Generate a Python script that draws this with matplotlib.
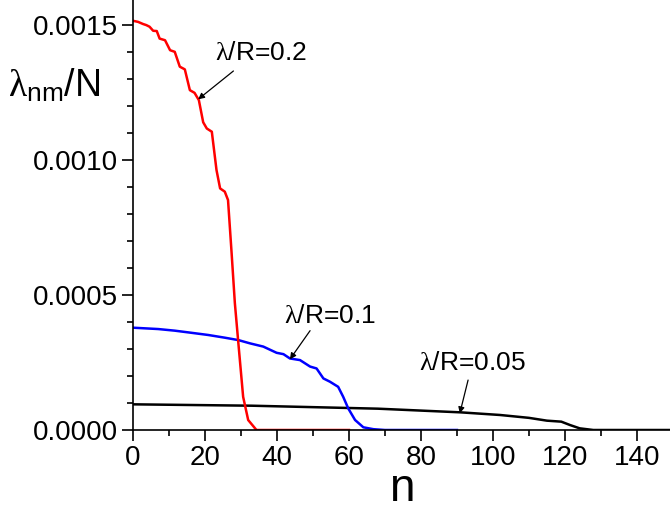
import matplotlib
matplotlib.use('Agg')
import matplotlib.pyplot as plt
from matplotlib.ticker import MultipleLocator, FormatStrFormatter

plt.rcParams['font.family'] = ['Liberation Sans', 'DejaVu Sans']
plt.rcParams['mathtext.fontset'] = 'custom'
plt.rcParams['mathtext.rm'] = 'Liberation Serif'
plt.rcParams['mathtext.sf'] = 'Liberation Sans'
plt.rcParams['mathtext.it'] = 'Liberation Serif:italic'

# lambda/R = 0.2 (red)
n_02 = [0, 1.4, 2.8, 3.7, 4.6, 5.6, 6.6, 7.4, 8.9, 10.3, 11.6, 13.0, 14.4, 15.8,
        17.1, 18.3, 19.5, 20.5, 21.9, 23.2, 24.2, 25.5, 26.4, 27.4, 28.3, 29.2,
        30.6, 32.0, 34.3, 40, 60]
v_02 = [0.001516, 0.001512, 0.001504, 0.001500, 0.001494, 0.001479, 0.001478,
        0.001450, 0.001444, 0.001407, 0.001401, 0.001346, 0.001336, 0.001259,
        0.001249, 0.001222, 0.001140, 0.001117, 0.001105, 0.000963, 0.000895,
        0.000883, 0.000852, 0.000655, 0.000470, 0.000333, 0.000123, 0.000037,
        0.0, 0.0, 0.0]

# lambda/R = 0.1 (blue)
n_01 = [0, 7, 11.6, 16.3, 20.9, 25.5, 29.3, 32.5, 36.2, 39.9, 41.8, 43.6, 46.4,
        49.2, 51.0, 52.9, 54.7, 57.0, 58.4, 59.8, 61.7, 64.0, 66.8, 70, 90]
v_01 = [0.000379, 0.000374, 0.000368, 0.000360, 0.000352, 0.000342, 0.000333,
        0.000321, 0.000309, 0.000286, 0.000281, 0.000265, 0.000259, 0.000235,
        0.000228, 0.000191, 0.000179, 0.000160, 0.000123, 0.000080, 0.000037,
        0.000010, 0.000003, 0.0, 0.0]

# lambda/R = 0.05 (black)
n_005 = [0, 33, 68, 91, 102, 110, 115, 119, 121.4, 124.1, 127.9, 150]
v_005 = [0.0000951, 0.0000900, 0.0000790, 0.0000654, 0.0000556, 0.0000450,
         0.0000346, 0.0000309, 0.0000185, 0.0000062, 0.0, 0.0]

labels = ['$\\mathrm{\\lambda}$/R=0.2', '$\\mathrm{\\lambda}$/R=0.1', '$\\mathrm{\\lambda}$/R=0.05']
label_xy = [(35.6, 0.001396), (54.7, 0.000422), (94.4, 0.000248)]
arrow_tail = [(27.9, 0.00133), (49.2, 0.000368), (93.1, 0.000185)]
arrow_head = [(18.1, 0.001225), (43.6, 0.000262), (90.8, 0.0000617)]

fig = plt.figure(figsize=(6.7, 5.18), dpi=100)
ax = fig.add_axes([133 / 670, 88 / 518, (670 - 133) / 670, 430 / 518])

ax.plot(n_005, v_005, color='black', lw=1.8)
ax.plot(n_01, v_01, color='blue', lw=1.8)
ax.plot(n_02, v_02, color='red', lw=1.8)

for txt, pos, tail, head in zip(labels, label_xy, arrow_tail, arrow_head):
    ax.text(pos[0], pos[1], txt, fontsize=19, ha='center', va='center')
    ax.annotate('', xy=head, xytext=tail,
                arrowprops=dict(arrowstyle='-|>', color='black', lw=0.9,
                                mutation_scale=9, shrinkA=0, shrinkB=0))

ax.set_xlim(0, 149.2)
ax.set_ylim(0, 0.001593)
ax.xaxis.set_major_locator(MultipleLocator(20))
ax.xaxis.set_minor_locator(MultipleLocator(10))
ax.yaxis.set_major_locator(MultipleLocator(0.0005))
ax.yaxis.set_minor_locator(MultipleLocator(0.0001))
ax.yaxis.set_major_formatter(FormatStrFormatter('%.4f'))

for s in ['top', 'right']:
    ax.spines[s].set_visible(False)
for s in ['left', 'bottom']:
    ax.spines[s].set_linewidth(1.2)

ax.tick_params(which='major', direction='out', length=8, width=1.2, labelsize=20, pad=3)
ax.tick_params(which='minor', direction='out', length=4.5, width=1.2)

ax.set_xlabel('n', fontsize=33, labelpad=-3)
fig.text(54 / 670, 1 - 86 / 518, '$\\mathrm{\\lambda}_{\\mathsf{nm}}$/N', fontsize=27,
         ha='center', va='center')

fig.savefig('out.png', dpi=100)
